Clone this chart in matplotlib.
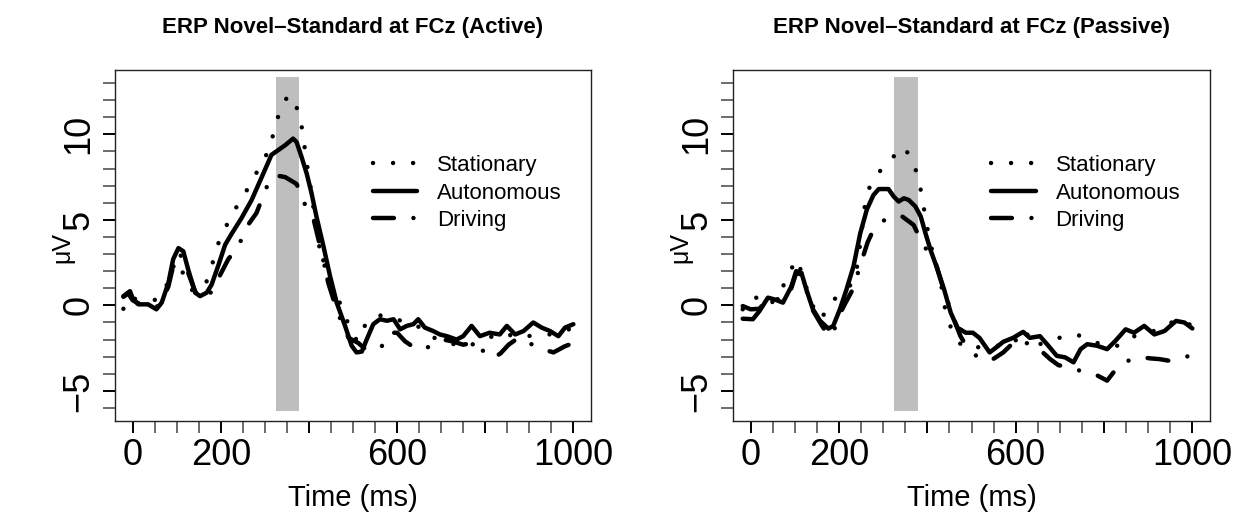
import numpy as np
import matplotlib
matplotlib.use('Agg')
import matplotlib.pyplot as plt
from matplotlib.lines import Line2D

plt.rcParams['font.family'] = ['Liberation Sans', 'DejaVu Sans']

# ---- data (time in ms, amplitude in microvolts) ----
# Active condition
act_aut_t = [-21, -6, 1, 13, 35, 54, 66, 81, 92, 104, 115, 126, 142, 153, 168, 179, 194, 210, 225,
             247, 270, 293, 315, 330, 346, 364, 372, 383, 395, 406, 417, 433, 448, 463, 482, 497,
             508, 520, 531, 546, 561, 577, 592, 607, 622, 637, 648, 663, 682, 697, 713, 735, 750,
             769, 788, 810, 833, 849, 868, 887, 909, 928, 947, 966, 981, 1000]
act_aut_v = [0.54, 0.83, 0.35, 0.06, 0.06, -0.23, 0.16, 1.3, 2.7, 3.35, 3.16, 2.1, 0.74, 0.54, 0.74,
             1.2, 2.3, 3.55, 4.2, 5.1, 6.16, 7.5, 8.8, 9.07, 9.36, 9.75, 9.55, 8.7, 7.7, 6.55, 5.2,
             3.45, 1.7, 0.16, -1.2, -2.36, -2.75, -2.7, -2.0, -1.1, -0.81, -0.9, -0.81, -1.4, -1.2,
             -1.1, -0.81, -1.3, -1.5, -1.7, -1.8, -2.0, -1.8, -1.2, -1.8, -1.6, -1.7, -1.2, -1.7,
             -1.5, -1.0, -1.3, -1.5, -1.8, -1.3, -1.1]

act_sta_t = [-21, -10, 0, 15, 29, 45, 58, 75, 90, 105, 119, 135, 150, 165, 179, 189, 206, 226, 249,
             270, 290, 310, 321, 333, 353, 376, 385, 391, 397, 405, 413, 421, 433, 448, 467, 485,
             500, 512, 530, 545, 560, 580, 600, 620, 643, 665, 685, 705, 725, 745, 763, 790, 817,
             845, 870, 895, 918, 945, 970, 1000]
act_sta_v = [-0.2, 0.5, 0.4, 0.35, 0.39, 0.3, 0.35, 1.0, 2.2, 2.6, 1.5, 0.9, 0.8, 1.2, 2.2, 3.3, 4.3,
             5.35, 6.3, 7.2, 8.2, 9.1, 10.2, 11.3, 12.3, 11.4, 10.25, 9.1, 8.0, 6.7, 5.2, 3.7, 2.5,
             1.4, 0.35, -0.8, -1.8, -2.1, -1.0, -0.7, -0.58, -0.7, -0.78, -1.1, -1.2, -1.4, -1.9,
             -2.1, -2.27, -2.2, -2.36, -2.1, -1.8, -1.6, -1.9, -1.8, -1.74, -1.7, -1.6, -1.3]

act_drv_t = [-21, -10, 0, 15, 35, 54, 66, 81, 92, 104, 115, 126, 142, 155, 168, 179, 195, 217, 240,
             259, 281, 300, 312, 325, 346, 372, 391, 410, 425, 444, 460, 474, 490, 512, 530, 550,
             565, 584, 600, 618, 635, 648, 665, 686, 705, 725, 750, 770, 792, 818, 835, 853, 875,
             900, 921, 955, 980, 1000]
act_drv_v = [0.5, 0.7, 0.3, 0.1, 0.1, -0.1, 0.2, 1.1, 2.3, 3.0, 2.8, 1.9, 0.8, 0.4, 0.5, 0.8, 1.6,
             2.7, 3.45, 4.6, 5.4, 6.65, 7.4, 7.6, 7.5, 7.1, 5.9, 5.1, 3.5, 1.3, 0.0, -1.0, -1.9,
             -2.2, -2.6, -2.6, -2.4, -1.6, -1.6, -2.1, -2.4, -2.6, -2.5, -2.27, -2.0, -2.1, -2.3,
             -2.2, -2.6, -3.1, -2.8, -2.3, -1.9, -2.2, -2.5, -2.75, -2.4, -2.2]

# Passive condition
pas_aut_t = [-18, 5, 20, 39, 54, 73, 92, 103, 115, 126, 141, 157, 176, 187, 202, 217, 233, 248, 263,
             278, 290, 312, 324, 335, 347, 358, 373, 385, 396, 407, 423, 438, 453, 468, 487, 503,
             518, 541, 556, 572, 594, 617, 632, 655, 674, 693, 712, 731, 747, 762, 784, 807, 826,
             849, 868, 891, 914, 937, 963, 982, 1000]
pas_aut_v = [-0.78, -0.81, -0.33, 0.45, 0.35, 0.16, 1.1, 2.0, 1.9, 0.93, -0.23, -0.9, -1.36, -1.2,
             -0.23, 0.93, 2.3, 4.2, 5.6, 6.45, 6.8, 6.8, 6.36, 6.07, 6.26, 6.16, 5.78, 5.2, 4.2,
             3.26, 2.1, 0.93, -0.43, -1.3, -1.6, -1.6, -1.9, -2.75, -2.46, -2.13, -1.9, -1.55,
             -1.9, -1.8, -2.36, -2.95, -3.04, -3.33, -2.56, -2.27, -2.36, -2.56, -2.07, -1.4,
             -1.6, -1.2, -1.7, -1.5, -0.91, -1.0, -1.35]

pas_sta_t = [-18, 8, 25, 44, 65, 87, 100, 110, 120, 128, 142, 157, 170, 179, 202, 225, 240, 250, 257,
             265, 286, 315, 347, 368, 381, 389, 396, 404, 414, 429, 442, 457, 472, 485, 500, 520,
             545, 570, 593, 620, 640, 665, 692, 715, 735, 760, 785, 815, 840, 870, 900, 937, 963,
             985, 1000]
pas_sta_v = [-0.23, 0.54, 0.2, 0.0, 0.8, 1.67, 2.7, 2.2, 1.9, 0.78, -0.1, -0.8, -0.4, 0.12, 0.64,
             1.16, 2.1, 4.0, 5.6, 6.7, 7.65, 8.5, 9.26, 8.4, 7.3, 6.2, 5.08, 3.97, 2.87, 1.6, -0.5,
             -1.55, -2.2, -2.4, -2.6, -2.4, -2.3, -2.4, -2.27, -1.4, -2.36, -2.2, -1.94, -1.8,
             -1.69, -1.9, -2.2, -2.4, -2.33, -1.78, -1.6, -1.3, -0.81, -1.0, -1.2]

pas_drv_t = [-18, 0, 20, 39, 54, 73, 92, 103, 115, 126, 141, 157, 176, 187, 200, 213, 229, 248, 255,
             265, 274, 297, 320, 343, 369, 392, 415, 430, 445, 460, 475, 488, 518, 535, 549, 572,
             590, 610, 636, 655, 678, 697, 720, 743, 765, 785, 807, 822, 840, 864, 887, 905, 925,
             948, 970, 994, 1000]
pas_drv_v = [-0.04, -0.23, -0.2, 0.4, 0.4, 0.3, 1.0, 1.9, 1.8, 0.9, -0.3, -1.0, -1.8, -1.6, -0.6,
             0.06, 0.83, 2.3, 2.9, 3.7, 4.2, 4.9, 5.2, 5.2, 4.7, 3.45, 2.8, 1.5, 0.3, -0.8, -1.8,
             -2.36, -3.14, -3.2, -3.14, -2.75, -2.3, -2.0, -2.36, -2.6, -3.14, -3.5, -3.6, -3.8,
             -3.9, -4.1, -4.4, -3.9, -3.4, -3.14, -3.04, -3.1, -3.14, -3.24, -3.1, -2.95, -2.9]

window = (325, 378)          # shaded analysis window (ms)
window_y = (-6.15, 13.33)
conditions = ['Stationary', 'Autonomous', 'Driving']
titles = ['ERP Novel\u2013Standard at FCz (Active)', 'ERP Novel\u2013Standard at FCz (Passive)']

LW = 3.2
styles = {
    'Stationary': dict(linestyle=(0, (0.01, 4.5))),
    'Autonomous': dict(linestyle='-'),
    'Driving': dict(linestyle=(0, (4.7, 4.4, 0.01, 4.4))),
}

W, H = 1246, 514


def draw_panel(ax, series, title):
    ax.fill_between(window, window_y[0], window_y[1], color='#BEBEBE', lw=0, zorder=0)
    for name, (t, v) in zip(conditions, series):
        ax.plot(t, v, color='black', lw=LW, dash_capstyle='round',
                solid_capstyle='round', solid_joinstyle='round', **styles[name])

    ax.set_xlim(-40, 1040)
    ax.set_ylim(-6.76, 13.76)

    ax.set_xticks([0, 200, 400, 600, 800, 1000])
    ax.set_xticklabels(['0', '200', '', '600', '', '1000'])
    ax.set_xticks(np.arange(0, 1001, 50), minor=True)
    ax.set_yticks([-5, 0, 5, 10])
    ax.set_yticklabels(['\u22125', '0', '5', '10'], rotation=90, va='center')
    ax.set_yticks(np.arange(-6, 14, 1), minor=True)

    ax.tick_params(which='both', direction='out', length=8.5)
    ax.tick_params(which='major', width=1.4, color='black', labelsize=26)
    ax.tick_params(which='minor', width=1.1, color='#444444')
    ax.tick_params(axis='x', which='major', pad=4)
    ax.tick_params(axis='y', which='major', pad=5)
    for sp in ax.spines.values():
        sp.set_linewidth(1.0)
        sp.set_color('#222222')

    # title, axis labels placed in figure pixels
    bb = ax.get_position()
    cx = (bb.x0 + bb.x1) / 2
    fig.text(cx, 1 - 27 / H, title, fontsize=16, fontweight='bold', ha='center', va='center')
    fig.text(cx, 1 - 498 / H, 'Time (ms)', fontsize=21, ha='center', va='center')
    fig.text(bb.x0 - 53 / W, 1 - 247 / H, '\u03bcV', fontsize=18, ha='center', va='center',
             rotation=90)

    handles = [Line2D([], [], color='black', lw=LW, dash_capstyle='round',
                      solid_capstyle='round', **styles[n]) for n in conditions]
    ax.legend(handles, conditions, loc='upper left', bbox_to_anchor=(0.541, 0.758),
              frameon=False, fontsize=16, handlelength=2.0, handletextpad=0.9,
              labelspacing=0.3, borderpad=0, borderaxespad=0)


fig = plt.figure(figsize=(W / 100, H / 100), dpi=100)
ax1 = fig.add_axes([115 / W, 1 - 421 / H, 476 / W, 351 / H])
ax2 = fig.add_axes([733 / W, 1 - 421 / H, 477 / W, 351 / H])

draw_panel(ax1, [(act_sta_t, act_sta_v), (act_aut_t, act_aut_v), (act_drv_t, act_drv_v)], titles[0])
draw_panel(ax2, [(pas_sta_t, pas_sta_v), (pas_aut_t, pas_aut_v), (pas_drv_t, pas_drv_v)], titles[1])

fig.savefig('out.png', dpi=100)
